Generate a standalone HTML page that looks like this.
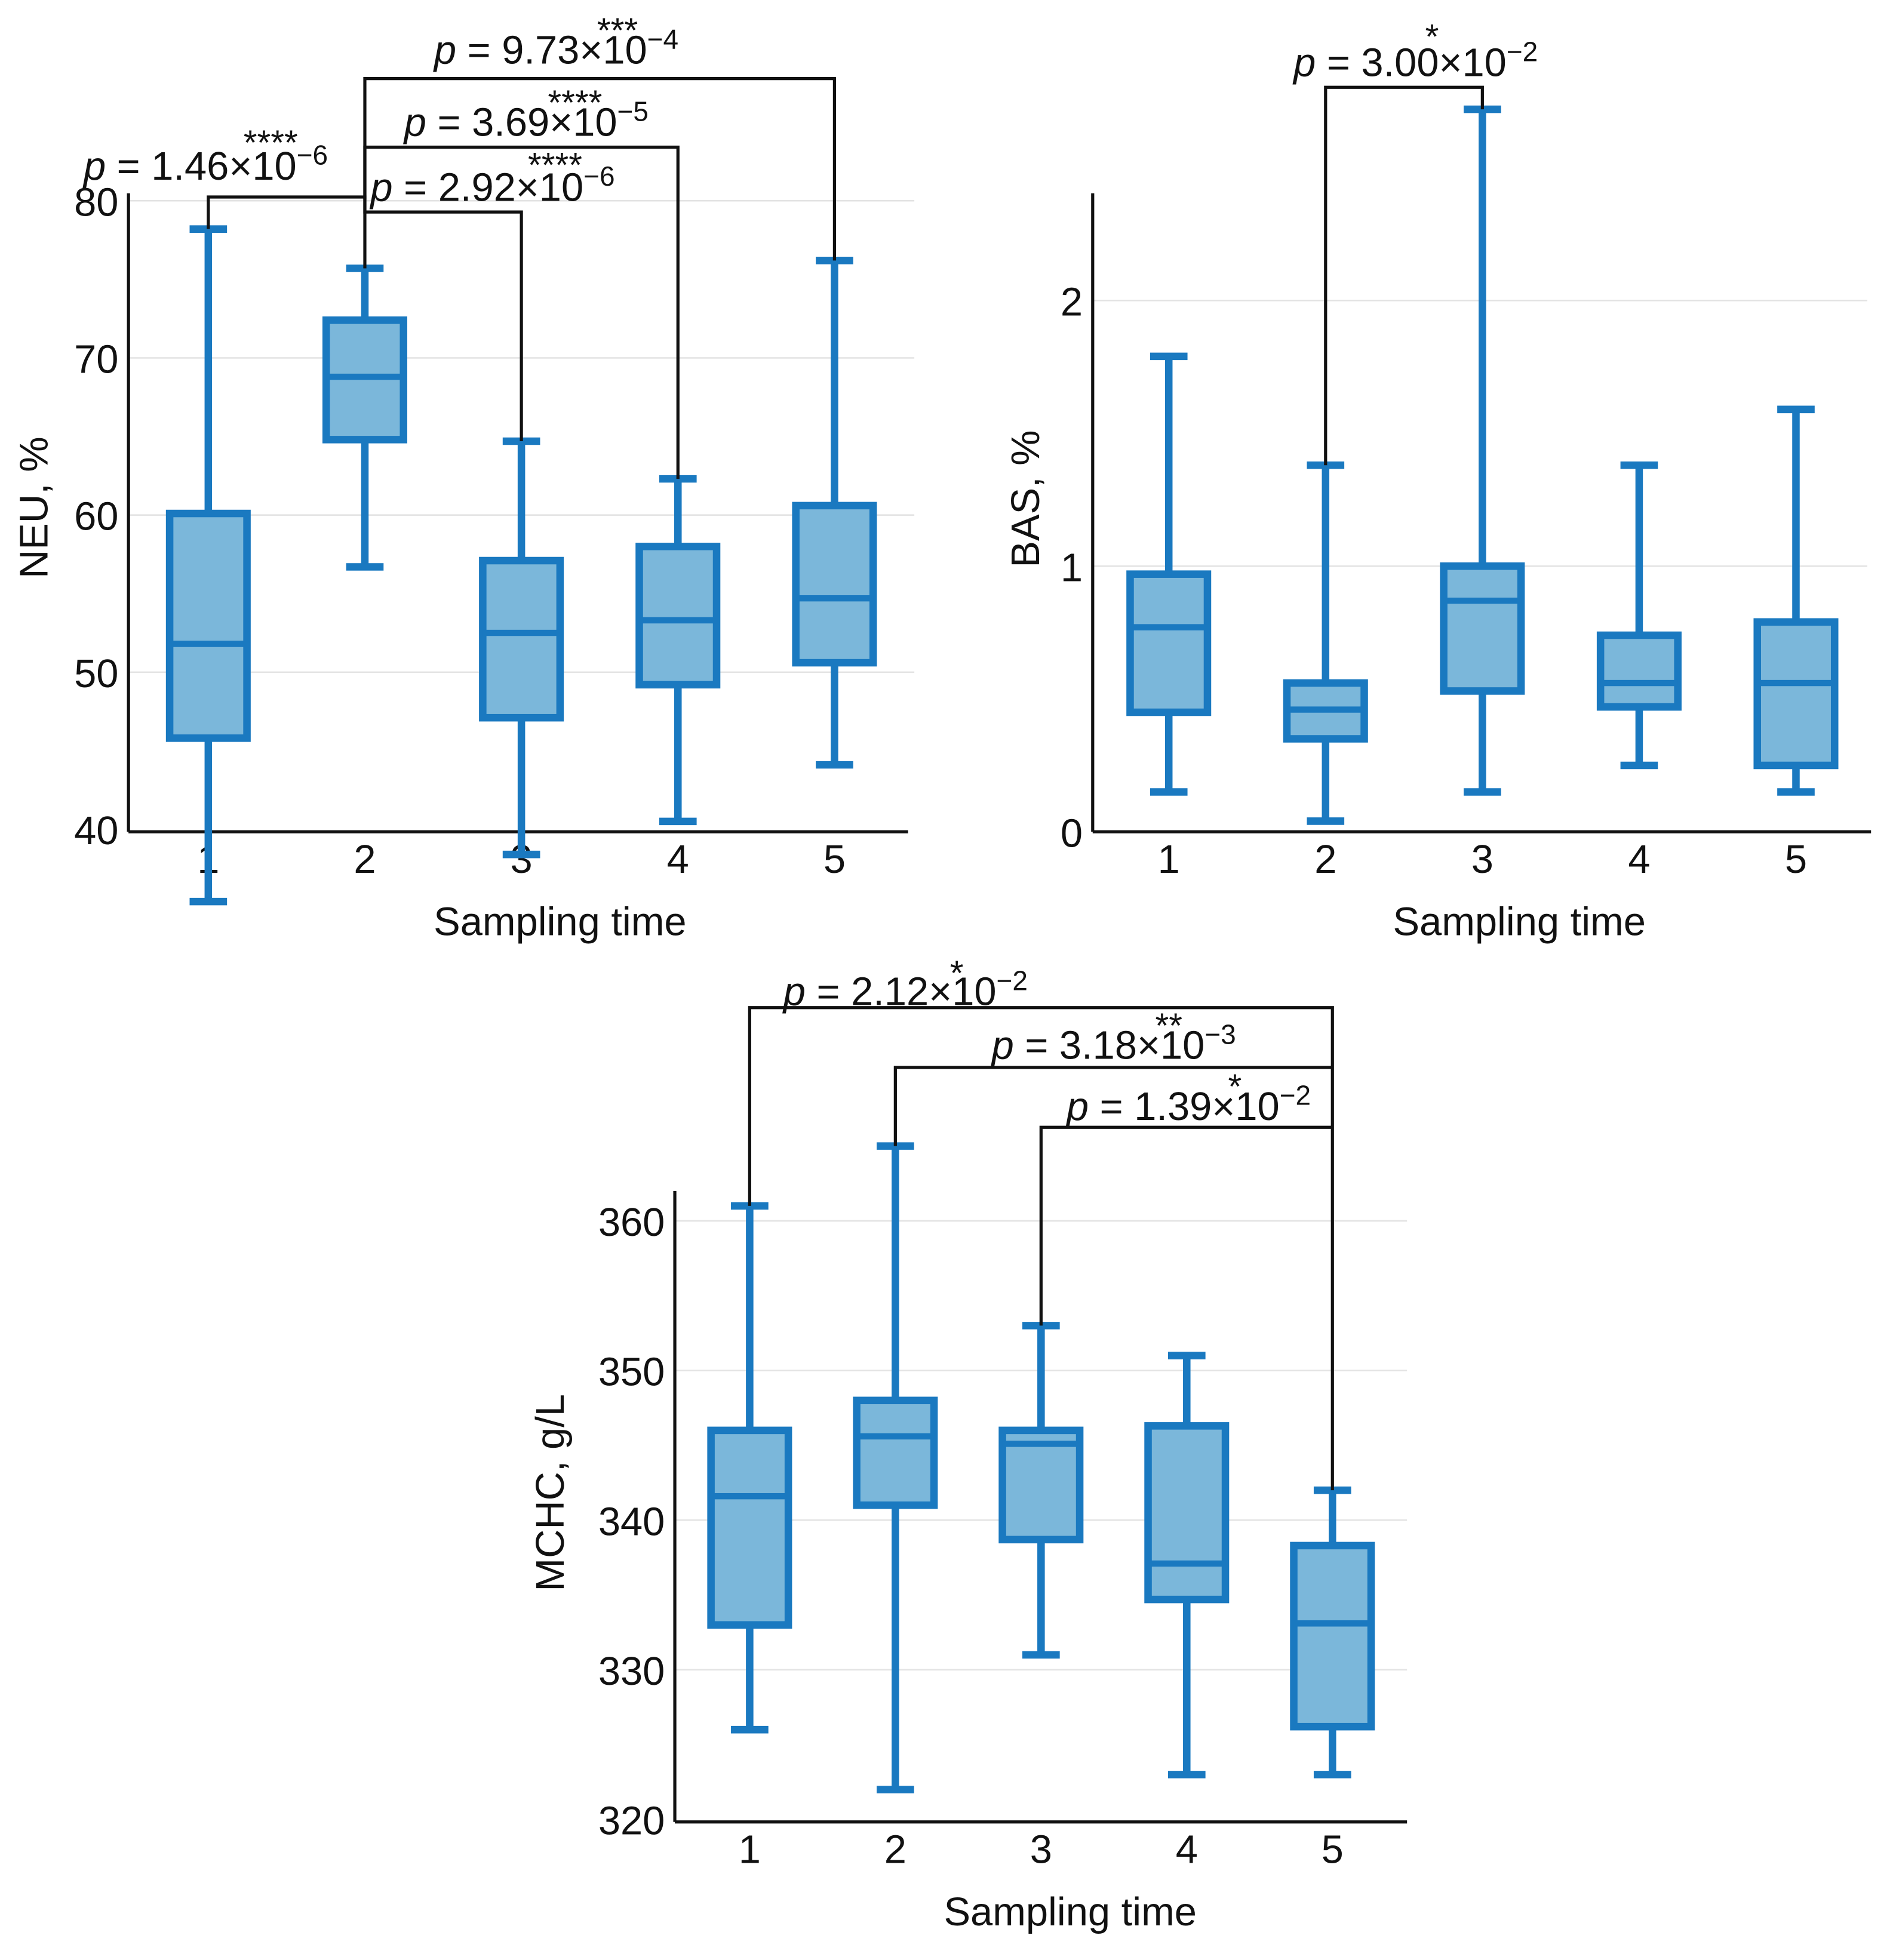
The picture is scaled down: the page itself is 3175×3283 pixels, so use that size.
<!DOCTYPE html>
<html><head><meta charset="utf-8"><style>
html,body{margin:0;padding:0;background:#fff;}
svg{display:block;}
text{font-family:"Liberation Sans",Arial,sans-serif;fill:#111;}
</style></head><body>
<svg id="fig" width="3175" height="3283" viewBox="0 0 1520 1571.7" xmlns="http://www.w3.org/2000/svg"></svg>
<script>
// ---- data ----
const categories = ["1","2","3","4","5"];
const neuMin = [35.4, 56.7, 38.4, 40.5, 44.1];
const neuQ1 = [45.8, 64.8, 47.1, 49.2, 50.6];
const neuMed = [51.8, 68.8, 52.5, 53.3, 54.7];
const neuQ3 = [60.1, 72.4, 57.1, 58.0, 60.6];
const neuMax = [78.2, 75.7, 64.7, 62.3, 76.2];
const neuTicks = [40, 50, 60, 70, 80];
const basMin = [0.15, 0.04, 0.15, 0.25, 0.15];
const basQ1 = [0.45, 0.35, 0.53, 0.47, 0.25];
const basMed = [0.77, 0.46, 0.87, 0.56, 0.56];
const basQ3 = [0.97, 0.56, 1.00, 0.74, 0.79];
const basMax = [1.79, 1.38, 2.72, 1.38, 1.59];
const basTicks = [0, 1, 2];
const mchcMin = [326, 322, 331, 323, 323];
const mchcQ1 = [333, 341, 338.7, 334.7, 326.2];
const mchcMed = [341.6, 345.6, 345.1, 337.1, 333.1];
const mchcQ3 = [346, 348, 346, 346.3, 338.3];
const mchcMax = [361, 365, 353, 351, 342];
const mchcTicks = [320, 330, 340, 350, 360];
const neuPLabels = ["1.46", "2.92", "3.69", "9.73"];
const neuPExp = ["6", "6", "5", "4"];
const neuStars = ["****", "****", "****", "***"];
const mchcPLabels = ["2.12", "3.18", "1.39"];
const mchcPExp = ["2", "3", "2"];
const mchcStars = ["*", "**", "*"];

const NS = "http://www.w3.org/2000/svg";
const svg = document.getElementById('fig');
function el(tag, attrs, parent) {
  const e = document.createElementNS(NS, tag);
  for (const k in attrs) e.setAttribute(k, attrs[k]);
  (parent || svg).appendChild(e);
  return e;
}
const BLUE = "#1a79c0", FILL = "#7bb7da";

function panel(cfg) {
  const g = el('g', {});
  
  
  const y = v => cfg.y0 + (v - cfg.vmin) / (cfg.vmax - cfg.vmin) * (cfg.y1 - cfg.y0);
  const x = i => cfg.xs0 + i * cfg.dx;
  cfg.ticks.forEach(t => {
    if (t !== cfg.vmin) {
      const gl = el('line', {x1: cfg.axX, x2: cfg.gridEnd, y1: y(t), y2: y(t), stroke: "#e3e3e3", 'stroke-width': 1.2}, g);
      
      
    }
    const tl = el('text', {x: cfg.axX - 8, y: y(t) + 12, 'font-size': 32, 'text-anchor': 'end'}, g);
    tl.textContent = t;
    
    
  });
  const ya = el('line', {x1: cfg.axX, x2: cfg.axX, y1: cfg.axTop, y2: cfg.axBot, stroke: "#111", 'stroke-width': 2.5}, g);
  
  
  const xa = el('line', {x1: cfg.axX, x2: cfg.axEnd, y1: cfg.axBot, y2: cfg.axBot, stroke: "#111", 'stroke-width': 2.5}, g);
  
  
  categories.forEach((c, i) => {
    const t = el('text', {x: x(i), y: cfg.axBot + 33, 'font-size': 32, 'text-anchor': 'middle'}, g);
    t.textContent = c;
    
    
    const bg = el('g', {}, g);
    
    
    const cx = x(i), hw = 31, cw = 15;
    el('line', {x1: cx, x2: cx, y1: y(cfg.min[i]), y2: y(cfg.max[i]), stroke: BLUE, 'stroke-width': 6}, bg);
    el('line', {x1: cx - cw, x2: cx + cw, y1: y(cfg.min[i]), y2: y(cfg.min[i]), stroke: BLUE, 'stroke-width': 6}, bg);
    el('line', {x1: cx - cw, x2: cx + cw, y1: y(cfg.max[i]), y2: y(cfg.max[i]), stroke: BLUE, 'stroke-width': 6}, bg);
    el('rect', {x: cx - hw, y: y(cfg.q3[i]), width: hw * 2, height: y(cfg.q1[i]) - y(cfg.q3[i]), fill: FILL, stroke: BLUE, 'stroke-width': 6}, bg);
    el('line', {x1: cx - hw, x2: cx + hw, y1: y(cfg.med[i]), y2: y(cfg.med[i]), stroke: BLUE, 'stroke-width': 5}, bg);
  });
  const xt = el('text', {x: cfg.xTitleX, y: cfg.axBot + 83, 'font-size': 32, 'text-anchor': 'middle'}, g);
  xt.textContent = "Sampling time";
  
  
  const yt = el('text', {x: 0, y: 0, 'font-size': 32, 'text-anchor': 'middle', transform: `translate(${cfg.yTitleX},${cfg.yTitleY}) rotate(-90)`}, g);
  yt.textContent = cfg.yTitle;
  
  
  return {g, x, y};
}

function bracket(g, x1, x2, yb, yl, yr, tx, ty, num, exp, stars, sx, sy) {
  const b = el('g', {}, g);
  
  
  el('polyline', {points: `${x1},${yl} ${x1},${yb} ${x2},${yb} ${x2},${yr}`, fill: 'none', stroke: '#111', 'stroke-width': 2.5}, b);
  const t = el('text', {x: tx, y: ty, 'font-size': 32}, b);
  t.innerHTML = `<tspan font-style="italic">p</tspan> = ${num}×10<tspan dy="-12" font-size="22">−${exp}</tspan>`;
  
  
  const s = el('text', {x: sx, y: sy, 'font-size': 28, 'text-anchor': 'middle'}, b);
  s.textContent = stars;
  
  
}

// NEU
const p1 = panel({name: 'neu-panel', vmin: 40, vmax: 80, y0: 665, y1: 161, xs0: 167, dx: 125.5,
  axX: 103, axTop: 155, axBot: 667, axEnd: 728, gridEnd: 733, ticks: neuTicks,
  min: neuMin, q1: neuQ1, med: neuMed, q3: neuQ3, max: neuMax,
  xTitleX: 449, yTitle: "NEU, %", yTitleX: 38, yTitleY: 407});
{
  const x = p1.x, y = p1.y;
  bracket(p1.g, x(0), x(1), 158, y(neuMax[0]), 160, 67, 144, neuPLabels[0], neuPExp[0], neuStars[0], 217, 124);
  bracket(p1.g, x(1), x(2), 170, 160, y(neuMax[2]), 297, 161, neuPLabels[1], neuPExp[1], neuStars[1], 445, 142);
  bracket(p1.g, x(1), x(3), 118, 160, y(neuMax[3]), 324, 109, neuPLabels[2], neuPExp[2], neuStars[2], 461, 92);
  bracket(p1.g, x(1), x(4), 63, y(neuMax[1]), y(neuMax[4]), 348, 51, neuPLabels[3], neuPExp[3], neuStars[3], 495, 34);
}
// BAS
const p2 = panel({name: 'bas-panel', vmin: 0, vmax: 2, y0: 667, y1: 241, xs0: 937, dx: 125.7,
  axX: 876, axTop: 155, axBot: 667, axEnd: 1500, gridEnd: 1497, ticks: basTicks,
  min: basMin, q1: basQ1, med: basMed, q3: basQ3, max: basMax,
  xTitleX: 1218, yTitle: "BAS, %", yTitleX: 833, yTitleY: 400});
bracket(p2.g, p2.x(1), p2.x(2), 70, p2.y(basMax[1]), p2.y(basMax[2]), 1037, 61, "3.00", "2", "*", 1148, 39);
// MCHC
const p3 = panel({name: 'mchc-panel', vmin: 320, vmax: 360, y0: 1459, y1: 979, xs0: 601, dx: 116.8,
  axX: 541, axTop: 955, axBot: 1461, axEnd: 1128, gridEnd: 1128, ticks: mchcTicks,
  min: mchcMin, q1: mchcQ1, med: mchcMed, q3: mchcQ3, max: mchcMax,
  xTitleX: 858, yTitle: "MCHC, g/L", yTitleX: 452, yTitleY: 1197});
{
  const x = p3.x, y = p3.y;
  bracket(p3.g, x(0), x(4), 808, y(mchcMax[0]), y(mchcMax[4]), 628, 806, mchcPLabels[0], mchcPExp[0], mchcStars[0], 767, 790);
  bracket(p3.g, x(1), x(4), 856, y(mchcMax[1]), 856, 795, 849, mchcPLabels[1], mchcPExp[1], mchcStars[1], 937, 832);
  bracket(p3.g, x(2), x(4), 904, y(mchcMax[2]), 904, 855, 898, mchcPLabels[2], mchcPExp[2], mchcStars[2], 990, 881);
}
</script>
</body></html>
